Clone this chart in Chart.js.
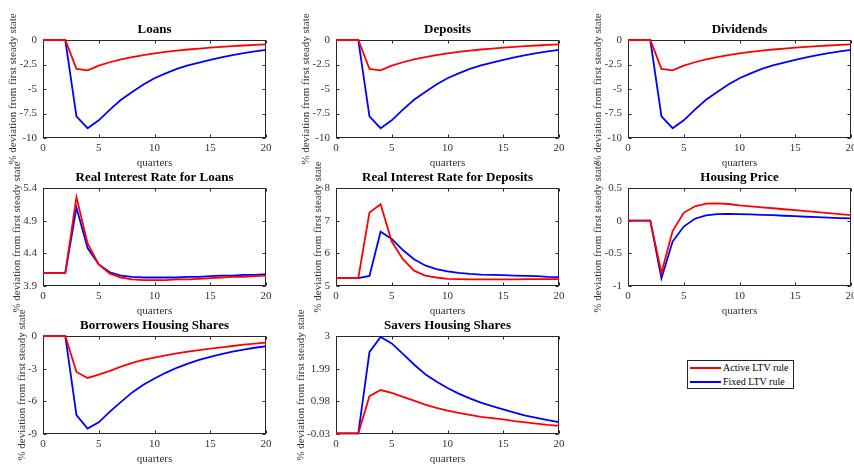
<!DOCTYPE html>
<html lang="en">
<head>
<meta charset="UTF-8">
<title>Impulse responses: Active vs Fixed LTV rule</title>
<script src="https://cdn.jsdelivr.net/npm/chart.js"></script>
<style>
  html, body { margin: 0; padding: 0; width: 854px; height: 464px; overflow: hidden; background: #fff; }
  canvas { position: absolute; }
  #legend { position: absolute; left: 687px; top: 360px; width: 105px; height: 27px;
            border: 1px solid #262626; background: #fff; font: 10px "Liberation Serif", serif; color: #000; }
  #legend .sw { position: absolute; left: 2px; width: 31px; height: 2px; }
  #legend .lb { position: absolute; left: 35px; line-height: 12px; }
</style>
</head>
<body>
<div id="legend">
  <span class="sw" style="top:6px;background:#ff0000"></span><span class="lb" style="top:1px">Active LTV rule</span>
  <span class="sw" style="top:20px;background:#0000ff"></span><span class="lb" style="top:15px">Fixed LTV rule</span>
</div>
<script>
// horizon
const quarters = [0,1,2,3,4,5,6,7,8,9,10,11,12,13,14,15,16,17,18,19,20];
const xTicks = [0,5,10,15,20];

// Loans
const loansActive = [0,0,0,-2.95,-3.1,-2.62,-2.27,-1.98,-1.74,-1.54,-1.36,-1.21,-1.08,-0.97,-0.87,-0.78,-0.7,-0.63,-0.56,-0.5,-0.44];
const loansFixed  = [0,0,0,-7.8,-9.0,-8.2,-7.1,-6.1,-5.3,-4.55,-3.9,-3.4,-2.95,-2.6,-2.3,-2.03,-1.78,-1.55,-1.35,-1.17,-1.0];
const loansTicks  = [-10,-7.5,-5,-2.5,0];

// Deposits
const depositsActive = [0,0,0,-2.95,-3.1,-2.62,-2.27,-1.98,-1.74,-1.54,-1.36,-1.21,-1.08,-0.97,-0.87,-0.78,-0.7,-0.63,-0.56,-0.5,-0.44];
const depositsFixed  = [0,0,0,-7.8,-9.0,-8.2,-7.1,-6.1,-5.3,-4.55,-3.9,-3.4,-2.95,-2.6,-2.3,-2.03,-1.78,-1.55,-1.35,-1.17,-1.0];
const depositsTicks  = [-10,-7.5,-5,-2.5,0];

// Dividends
const dividendsActive = [0,0,0,-2.95,-3.1,-2.62,-2.27,-1.98,-1.74,-1.54,-1.36,-1.21,-1.08,-0.97,-0.87,-0.78,-0.7,-0.63,-0.56,-0.5,-0.44];
const dividendsFixed  = [0,0,0,-7.8,-9.0,-8.2,-7.1,-6.1,-5.3,-4.55,-3.9,-3.4,-2.95,-2.6,-2.3,-2.03,-1.78,-1.55,-1.35,-1.17,-1.0];
const dividendsTicks  = [-10,-7.5,-5,-2.5,0];

// Real interest rate for loans
const rateLoansActive = [4.1,4.1,4.1,5.26,4.55,4.23,4.09,4.03,4.0,3.99,3.99,3.99,4.0,4.0,4.01,4.02,4.03,4.04,4.04,4.05,4.06];
const rateLoansFixed  = [4.1,4.1,4.1,5.1,4.48,4.23,4.11,4.06,4.04,4.03,4.03,4.03,4.03,4.04,4.04,4.05,4.06,4.06,4.07,4.07,4.08];
const rateLoansTicks  = [3.9,4.4,4.9,5.4];

// Real interest rate for deposits
const rateDepositsActive = [5.24,5.24,5.24,7.25,7.5,6.36,5.82,5.47,5.32,5.26,5.22,5.21,5.2,5.2,5.2,5.2,5.2,5.21,5.21,5.21,5.21];
const rateDepositsFixed  = [5.24,5.24,5.24,5.31,6.66,6.44,6.1,5.82,5.63,5.52,5.45,5.4,5.37,5.35,5.34,5.33,5.32,5.31,5.3,5.28,5.27];
const rateDepositsTicks  = [5,6,7,8];

// Housing price
const housingPriceActive = [0,0,0,-0.8,-0.16,0.12,0.22,0.26,0.265,0.255,0.235,0.22,0.205,0.19,0.175,0.16,0.145,0.13,0.115,0.1,0.085];
const housingPriceFixed  = [0,0,0,-0.88,-0.32,-0.09,0.03,0.08,0.1,0.105,0.1,0.095,0.09,0.085,0.075,0.068,0.06,0.053,0.047,0.04,0.035];
const housingPriceTicks  = [-1,-0.5,0,0.5];

// Borrowers housing shares
const borrowersActive = [0,0,0,-3.3,-3.85,-3.54,-3.2,-2.82,-2.47,-2.2,-1.98,-1.78,-1.6,-1.44,-1.3,-1.16,-1.04,-0.92,-0.8,-0.7,-0.6];
const borrowersFixed  = [0,0,0,-7.26,-8.5,-7.93,-6.95,-6.05,-5.18,-4.48,-3.9,-3.38,-2.92,-2.53,-2.2,-1.92,-1.66,-1.44,-1.25,-1.08,-0.94];
const borrowersTicks  = [-9,-6,-3,0];

// Savers housing shares
const saversActive = [-0.01,-0.01,-0.01,1.14,1.33,1.24,1.12,1.0,0.88,0.78,0.69,0.62,0.56,0.5,0.46,0.42,0.37,0.33,0.29,0.25,0.22];
const saversFixed  = [-0.01,-0.01,-0.01,2.5,2.97,2.77,2.45,2.12,1.82,1.59,1.39,1.22,1.07,0.94,0.83,0.73,0.63,0.54,0.47,0.4,0.34];
const saversTicks  = [-0.03,0.98,1.99,3];

const yLabel = '% deviation from first steady state';
const FONT = '"Liberation Serif", "Times New Roman", serif';

const panels = [
  { title: 'Loans', active: loansActive, fixed: loansFixed, ticks: loansTicks, col: 0, row: 0 },
  { title: 'Deposits', active: depositsActive, fixed: depositsFixed, ticks: depositsTicks, col: 1, row: 0 },
  { title: 'Dividends', active: dividendsActive, fixed: dividendsFixed, ticks: dividendsTicks, col: 2, row: 0 },
  { title: 'Real Interest Rate for Loans', active: rateLoansActive, fixed: rateLoansFixed, ticks: rateLoansTicks, col: 0, row: 1 },
  { title: 'Real Interest Rate for Deposits', active: rateDepositsActive, fixed: rateDepositsFixed, ticks: rateDepositsTicks, col: 1, row: 1 },
  { title: 'Housing Price', active: housingPriceActive, fixed: housingPriceFixed, ticks: housingPriceTicks, col: 2, row: 1 },
  { title: 'Borrowers Housing Shares', active: borrowersActive, fixed: borrowersFixed, ticks: borrowersTicks, col: 0, row: 2 },
  { title: 'Savers Housing Shares', active: saversActive, fixed: saversFixed, ticks: saversTicks, col: 1, row: 2 }
];

// plot-area placement (px)
const colLeft = [43, 336, 628];
const rowTop = [40, 188, 336];
const plotW = 223, plotH = 98;
const padL = 45, padT = 40, padR = 10, padB = 40;

// MATLAB style box with inward ticks, title and axis labels
const matlabAxes = {
  id: 'matlabAxes',
  beforeDatasetsDraw(chart, args, opts) {
    const { ctx, chartArea: a, scales } = chart;
    ctx.save();
    ctx.strokeStyle = '#262626';
    ctx.lineWidth = 1;
    const L = Math.round(a.left) + 0.5, R = Math.round(a.right) - 0.5;
    const T = Math.round(a.top) + 0.5, B = Math.round(a.bottom) - 0.5;
    ctx.strokeRect(L, T, R - L, B - T);
    const tl = 3;
    ctx.beginPath();
    scales.x.ticks.forEach(t => {
      const px = Math.round(scales.x.getPixelForValue(t.value)) + 0.5;
      ctx.moveTo(px, B); ctx.lineTo(px, B - tl);
      ctx.moveTo(px, T); ctx.lineTo(px, T + tl);
    });
    scales.y.ticks.forEach(t => {
      const py = Math.round(scales.y.getPixelForValue(t.value)) + 0.5;
      ctx.moveTo(L, py); ctx.lineTo(L + tl, py);
      ctx.moveTo(R, py); ctx.lineTo(R - tl, py);
    });
    ctx.stroke();

    ctx.textAlign = 'center';
    ctx.textBaseline = 'middle';
    ctx.fillStyle = '#000';
    ctx.font = 'bold 13px ' + FONT;
    ctx.fillText(opts.title, (a.left + a.right) / 2, a.top - 10);

    ctx.fillStyle = '#333';
    ctx.font = '11px ' + FONT;
    ctx.fillText('quarters', (a.left + a.right) / 2, a.bottom + 25);

    let maxW = 0;
    scales.y.ticks.forEach(t => { maxW = Math.max(maxW, ctx.measureText(String(t.value)).width); });
    ctx.translate(a.left - 6 - maxW - 6, (a.top + a.bottom) / 2);
    ctx.rotate(-Math.PI / 2);
    ctx.fillText(yLabel, 0, 0);
    ctx.restore();
  }
};

const tickFont = { family: FONT, size: 11 };

panels.forEach(p => {
  const cv = document.createElement('canvas');
  cv.width = padL + plotW + padR;
  cv.height = padT + plotH + padB;
  cv.style.left = (colLeft[p.col] - padL) + 'px';
  cv.style.top = (rowTop[p.row] - padT) + 'px';
  document.body.appendChild(cv);

  new Chart(cv, {
    type: 'line',
    data: {
      datasets: [
        { label: 'Active LTV rule', data: quarters.map((q, i) => ({ x: q, y: p.active[i] })),
          borderColor: '#ff0000', borderWidth: 1.8, pointRadius: 0, tension: 0, clip: false },
        { label: 'Fixed LTV rule', data: quarters.map((q, i) => ({ x: q, y: p.fixed[i] })),
          borderColor: '#0000ff', borderWidth: 1.8, pointRadius: 0, tension: 0, clip: false }
      ]
    },
    options: {
      responsive: false,
      animation: false,
      devicePixelRatio: 1,
      layout: { padding: { left: 0, top: padT, right: padR, bottom: 0 } },
      plugins: {
        legend: { display: false },
        tooltip: { enabled: false },
        matlabAxes: { title: p.title }
      },
      scales: {
        x: {
          type: 'linear', min: 0, max: 20,
          afterBuildTicks: s => { s.ticks = xTicks.map(v => ({ value: v })); },
          afterFit: s => { s.height = padB; },
          grid: { display: false, drawTicks: false },
          border: { display: false },
          ticks: { font: tickFont, color: '#333', padding: 4, maxRotation: 0, callback: v => String(v) }
        },
        y: {
          type: 'linear', min: p.ticks[0], max: p.ticks[p.ticks.length - 1],
          afterBuildTicks: s => { s.ticks = p.ticks.map(v => ({ value: v })); },
          afterFit: s => { s.width = padL; },
          grid: { display: false, drawTicks: false },
          border: { display: false },
          ticks: { font: tickFont, color: '#333', padding: 6, callback: v => String(v) }
        }
      }
    },
    plugins: [matlabAxes]
  });
});
</script>
</body>
</html>
